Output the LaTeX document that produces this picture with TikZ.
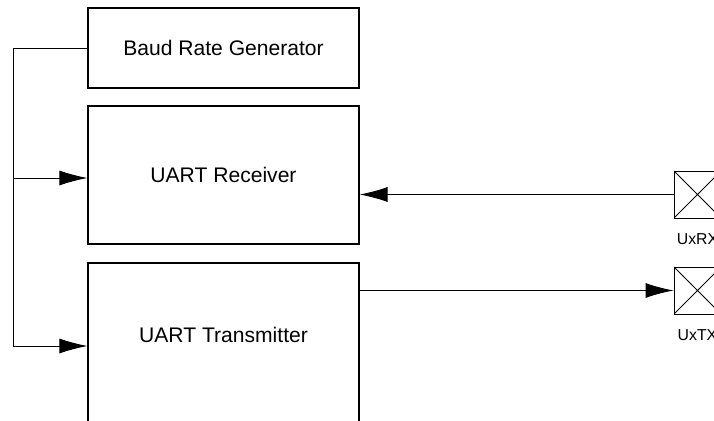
\documentclass[tikz,border=0pt]{standalone}
\usepackage{fontspec}
\setmainfont{Liberation Sans}
\usetikzlibrary{arrows.meta}

\begin{document}
\begin{tikzpicture}[x=0.3mm,y=-0.3mm,
		block/.style={draw,line width=0.9pt,inner sep=0pt,minimum width=81.3mm,
			font=\fontsize{18}{21}\selectfont},
		pad/.style={draw,line width=0.8pt,minimum size=14.1mm,inner sep=0pt,
			path picture={\draw[line width=0.7pt]
				(path picture bounding box.south west) -- (path picture bounding box.north east)
				(path picture bounding box.north west) -- (path picture bounding box.south east);}},
		padtext/.style={font=\fontsize{13.5}{15}\selectfont,inner sep=0pt,yshift=-4.6mm},
		wire/.style={line width=0.8pt},
		feed/.style={wire,-{Latex[length=8.4mm,width=4.5mm]}}]
	\clip (0,0) rectangle (714,421);
	% blocks
	\node[block,minimum height=24mm] (brg) at (223.5,48) {Baud Rate Generator};
	\node[block,minimum height=41.4mm] (rx) at (223.5,175) {UART Receiver};
	\node[block,minimum height=60mm] (tx) at (223.5,363) {};
	\node[anchor=center,inner sep=0pt,font=\fontsize{18}{21}\selectfont] (txtext) at (223.5,335)
		{UART Transmitter};
	% pins
	\node[pad,label={[padtext]below:UxRX}] (rxpad) at (697.5,194.5) {};
	\node[pad,label={[padtext]below:UxTX}] (txpad) at (697.5,290.5) {};
	% clock bus
	\coordinate (rxbus) at (13,178);
	\coordinate (txbus) at (13,346);
	\draw[feed] (brg.west) -| (txbus) -- (txbus -| tx.west);
	\draw[feed] (rxbus) -- (rxbus -| rx.west);
	% data lines
	\draw[feed] (rxpad.west) -- (rxpad.west -| rx.east);
	\draw[feed] (txpad.west -| tx.east) -- (txpad.west);
\end{tikzpicture}
\end{document}
